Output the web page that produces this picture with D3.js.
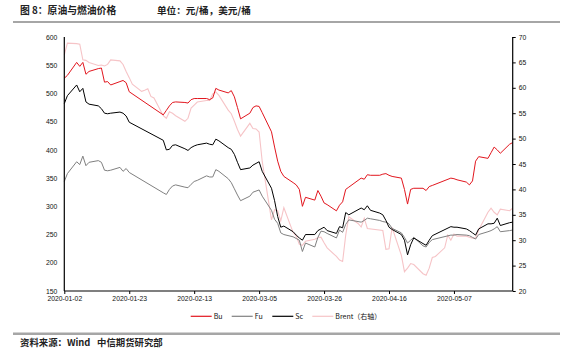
<!DOCTYPE html>
<html><head><meta charset="utf-8">
<script src="https://cdn.jsdelivr.net/npm/d3@7/dist/d3.min.js"></script>
<style>
html,body{margin:0;padding:0;background:#fff;}
svg{display:block;}
</style></head>
<body>
<svg id="chart" width="573" height="357"></svg>
<script>
// ---------- DATA ----------
const cnDates = ["2020-01-02","2020-01-03","2020-01-06","2020-01-07","2020-01-08","2020-01-09","2020-01-10","2020-01-13","2020-01-14","2020-01-15","2020-01-16","2020-01-17","2020-01-20","2020-01-21","2020-01-22","2020-01-23",
"2020-02-03","2020-02-04","2020-02-05","2020-02-06","2020-02-07","2020-02-10","2020-02-11","2020-02-12","2020-02-13","2020-02-14","2020-02-17","2020-02-18","2020-02-19","2020-02-20","2020-02-21","2020-02-24","2020-02-25","2020-02-26","2020-02-27","2020-02-28",
"2020-03-02","2020-03-03","2020-03-04","2020-03-05","2020-03-06","2020-03-09","2020-03-10","2020-03-11","2020-03-12","2020-03-13","2020-03-16","2020-03-17","2020-03-18","2020-03-19","2020-03-20","2020-03-23","2020-03-24","2020-03-25","2020-03-26","2020-03-27","2020-03-30","2020-03-31",
"2020-04-01","2020-04-02","2020-04-03","2020-04-07","2020-04-08","2020-04-09","2020-04-10","2020-04-13","2020-04-14","2020-04-15","2020-04-16","2020-04-17","2020-04-20","2020-04-21","2020-04-22","2020-04-23","2020-04-24","2020-04-27","2020-04-28","2020-04-29","2020-04-30",
"2020-05-06","2020-05-07","2020-05-08","2020-05-11","2020-05-12","2020-05-13","2020-05-14","2020-05-15","2020-05-18","2020-05-19","2020-05-20","2020-05-21","2020-05-22","2020-05-25","2020-05-26"];

const bu = [527,532,555,548,555,534,539,544,545,520,521,515,521,523,519,503,
462,470,478,484,485,484,483,489,491,491,491,489,492,509,506,501,505,494,475,455,
465,475,478,477,466,432,405,380,362,353,342,338,330,300,316,311,328,318,306,303,292,302,
308,330,334,350,348,356,355,355,357,358,355,353,350,330,304,330,332,332,328,335,337,
350,349,347,343,338,345,380,388,385,395,405,400,394,410,413];

const fu = [344,358,379,374,389,372,378,381,378,364,363,364,369,362,367,360,
324,321,330,336,338,334,333,339,344,346,354,352,352,365,362,349,342,331,320,310,
318,325,327,329,318,293,277,270,253,250,246,243,240,220,235,228,245,256,255,252,244,258,
254,268,276,272,275,279,278,275,273,272,269,261,253,245,235,240,245,230,228,236,241,
249,249,250,249,248,245,242,250,255,257,260,264,255,257,258];

const sc = [482,496,515,503,509,485,481,478,473,465,464,465,467,465,460,449,
417,400,401,408,409,402,399,404,407,409,412,410,409,419,416,404,401,392,378,365,
368,373,376,379,362,332,310,282,263,265,255,249,244,240,250,250,257,260,263,257,252,264,
262,289,285,297,294,301,293,288,285,275,263,259,250,240,214,232,244,234,231,240,248,
264,263,263,260,257,253,249,260,269,269,270,279,266,271,272];

const brentDates = ["2020-01-02","2020-01-03","2020-01-06","2020-01-07","2020-01-08","2020-01-09","2020-01-10","2020-01-13","2020-01-14","2020-01-15","2020-01-16","2020-01-17","2020-01-20","2020-01-21","2020-01-22","2020-01-23","2020-01-24","2020-01-27","2020-01-28","2020-01-29","2020-01-30","2020-01-31",
"2020-02-03","2020-02-04","2020-02-05","2020-02-06","2020-02-07","2020-02-10","2020-02-11","2020-02-12","2020-02-13","2020-02-14","2020-02-17","2020-02-18","2020-02-19","2020-02-20","2020-02-21","2020-02-24","2020-02-25","2020-02-26","2020-02-27","2020-02-28",
"2020-03-02","2020-03-03","2020-03-04","2020-03-05","2020-03-06","2020-03-09","2020-03-10","2020-03-11","2020-03-12","2020-03-13","2020-03-16","2020-03-17","2020-03-18","2020-03-19","2020-03-20","2020-03-23","2020-03-24","2020-03-25","2020-03-26","2020-03-27","2020-03-30","2020-03-31",
"2020-04-01","2020-04-02","2020-04-03","2020-04-06","2020-04-07","2020-04-08","2020-04-09","2020-04-14","2020-04-15","2020-04-16","2020-04-17","2020-04-20","2020-04-21","2020-04-22","2020-04-23","2020-04-24","2020-04-27","2020-04-28","2020-04-29","2020-04-30",
"2020-05-01","2020-05-04","2020-05-05","2020-05-06","2020-05-07","2020-05-08","2020-05-11","2020-05-12","2020-05-13","2020-05-14","2020-05-15","2020-05-18","2020-05-19","2020-05-20","2020-05-21","2020-05-22","2020-05-25","2020-05-26"];

const brent = [66.5,68.8,68.7,68.6,65.5,65.4,65.0,64.4,64.5,64.3,64.6,65.5,65.3,64.6,63.2,62.0,60.7,59.3,59.5,59.8,58.3,58.0,
54.5,54.0,55.3,55.0,54.5,53.4,54.0,56.0,56.6,57.2,57.5,57.5,58.8,59.2,58.5,55.6,54.9,53.4,51.8,50.5,
53.0,52.0,51.9,51.3,45.5,34.0,36.0,35.8,33.8,36.4,31.5,30.8,29.2,29.0,29.8,30.2,30.5,30.6,29.5,28.5,26.8,26.1,
25.8,31.0,34.6,33.3,32.6,34.3,32.3,31.9,28.2,28.3,32.5,27.0,23.8,24.5,25.4,25.2,23.4,23.1,24.5,26.6,
26.8,28.5,31.0,30.0,31.2,30.8,30.8,30.6,30.4,30.4,32.0,35.5,36.3,35.5,35.0,36.1,35.8,36.3];

const leftTicks = [150,200,250,300,350,400,450,500,550,600];
const rightTicks = [20,25,30,35,40,45,50,55,60,65,70];
const xTickLabels = ["2020-01-02","2020-01-23","2020-02-13","2020-03-05","2020-03-26","2020-04-16","2020-05-07"];
const seriesNames = ["Bu","Fu","Sc","Brent（右轴）"];
const seriesColors = ["#e2161e","#808080","#000000","#f6c4c7"];

// ---------- CHART ----------
const parse = d3.utcParse("%Y-%m-%d");
const svg = d3.select("#chart");
const cjk = "'Noto Sans CJK SC','Noto Sans',sans-serif";
const latin = "'Liberation Sans',Arial,sans-serif";

const L = 64.3, R = 512.7, T = 37, B = 291;
const x = d3.scaleUtc().domain([parse(cnDates[0]), parse(cnDates[cnDates.length-1])]).range([L, R]);
const yL = d3.scaleLinear().domain([150, 600]).range([B, T]);
const yR = d3.scaleLinear().domain([20, 70]).range([B, T]);

// header
svg.append("text").attr("x", 20).attr("y", 14).attr("font-family", cjk).attr("font-size", 9.8)
  .attr("font-weight", 700).attr("fill", "#222").text("图 8：原油与燃油价格");
svg.append("text").attr("x", 157).attr("y", 14).attr("font-family", cjk).attr("font-size", 9.6)
  .attr("font-weight", 700).attr("fill", "#222").text("单位：元/桶，美元/桶");
svg.append("rect").attr("x", 13).attr("y", 21).attr("width", 547).attr("height", 2).attr("fill", "#a6a6a6");
svg.append("rect").attr("x", 13).attr("y", 332.5).attr("width", 547).attr("height", 2.5).attr("fill", "#a6a6a6");
svg.append("text").attr("x", 20).attr("y", 346).attr("font-family", cjk).attr("font-size", 9.4)
  .attr("font-weight", 700).attr("fill", "#222").text("资料来源：Wind");
svg.append("text").attr("x", 97).attr("y", 346).attr("font-family", cjk).attr("font-size", 9.4)
  .attr("font-weight", 700).attr("fill", "#222").text("中信期货研究部");

// lines
const lineL = (dates, vals) => d3.line().x((d, i) => x(parse(dates[i]))).y(d => yL(d))(vals);
const lineR = (dates, vals) => d3.line().x((d, i) => x(parse(dates[i]))).y(d => yR(d))(vals);
const g = svg.append("g");
g.append("path").attr("d", lineR(brentDates, brent)).attr("fill", "none").attr("stroke", seriesColors[3]).attr("stroke-width", 1.1);
g.append("path").attr("d", lineL(cnDates, fu)).attr("fill", "none").attr("stroke", seriesColors[1]).attr("stroke-width", 1);
g.append("path").attr("d", lineL(cnDates, sc)).attr("fill", "none").attr("stroke", seriesColors[2]).attr("stroke-width", 1);
g.append("path").attr("d", lineL(cnDates, bu)).attr("fill", "none").attr("stroke", seriesColors[0]).attr("stroke-width", 1);

// axes
const axL = svg.append("g").attr("transform", `translate(${L},0)`)
  .call(d3.axisLeft(yL).tickValues(leftTicks).tickSize(0).tickPadding(7).tickFormat(d3.format("d")));
const axR = svg.append("g").attr("transform", `translate(${R},0)`)
  .call(d3.axisRight(yR).tickValues(rightTicks).tickSize(3).tickPadding(3).tickFormat(d3.format("d")));
const axB = svg.append("g").attr("transform", `translate(0,${B})`)
  .call(d3.axisBottom(x).tickValues(xTickLabels.map(parse)).tickSize(3).tickPadding(2).tickFormat(d3.utcFormat("%Y-%m-%d")));
[axL, axR, axB].forEach(a => {
  a.select(".domain").attr("stroke", "#000").attr("stroke-width", 1.2);
  a.selectAll(".tick line").attr("stroke", "#000");
  a.selectAll("text").attr("font-family", latin).attr("font-size", 6.8).attr("fill", "#111");
});
axB.select(".domain").attr("d", `M${L},0H${R}`);
axL.select(".domain").attr("d", `M0,${B}V${T}`);
axR.select(".domain").attr("d", `M0,${B}V${T}`);

// legend
const legX = [190.7, 231.7, 272.3, 312.3];
const legY = 316.3;
seriesNames.forEach((n, i) => {
  svg.append("line").attr("x1", legX[i]).attr("x2", legX[i] + 21).attr("y1", legY).attr("y2", legY)
    .attr("stroke", seriesColors[i]).attr("stroke-width", 1.2);
  svg.append("text").attr("x", legX[i] + 23).attr("y", legY + 2.5).attr("font-family", cjk)
    .attr("font-size", 7).attr("fill", "#111").text(n);
});
</script>
</body></html>
